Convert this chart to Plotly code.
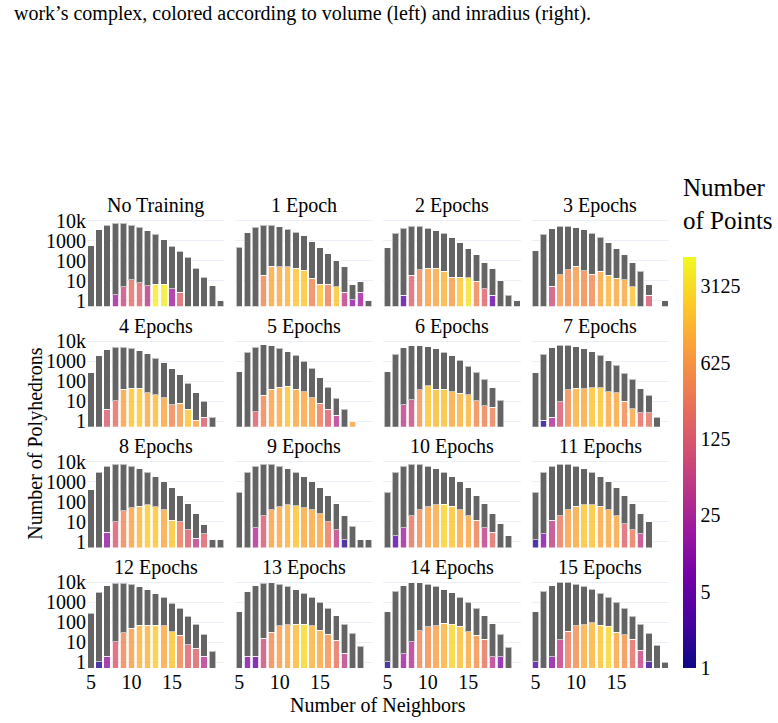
import numpy as np
import plotly.graph_objects as go
from plotly.subplots import make_subplots

neighbors = list(range(5, 22))
titles = ["No Training", "1 Epoch", "2 Epochs", "3 Epochs", "4 Epochs", "5 Epochs",
          "6 Epochs", "7 Epochs", "8 Epochs", "9 Epochs", "10 Epochs", "11 Epochs",
          "12 Epochs", "13 Epochs", "14 Epochs", "15 Epochs"]

# total number of polyhedrons per neighbor count (5..21)
total_e0 = [560, 3400, 6000, 7400, 7400, 6000, 4700, 3150, 2100, 1080, 530, 285, 150, 42, 15, 5.4, 1]
total_e1 = [470, 2500, 4700, 5900, 5900, 5000, 3700, 2600, 1700, 890, 450, 220, 100, 48, 6.3, 8.9, 1]
total_e2 = [450, 2350, 4150, 5200, 5100, 4150, 3150, 2350, 1350, 800, 400, 195, 80, 38, 10, 1.8, 1]
total_e3 = [310, 2100, 4000, 5200, 5200, 4450, 3400, 2350, 1500, 770, 390, 195, 78, 29, 6.3, 0, 1]
total_e4 = [265, 1900, 3800, 5000, 5000, 4450, 3400, 2350, 1400, 830, 420, 210, 80, 26, 10, 1.6, 0]
total_e5 = [300, 2800, 5000, 6500, 6000, 4500, 3000, 2000, 1000, 450, 150, 50, 14, 4, 1, 0, 0]
total_e6 = [295, 2240, 4650, 6000, 6000, 5400, 4150, 2800, 1900, 1120, 560, 275, 127, 48, 11, 0, 0]
total_e7 = [265, 2240, 4650, 6300, 6300, 5400, 4150, 3000, 2000, 1080, 610, 250, 123, 42, 19.6, 1.6, 0]
total_e8 = [400, 3000, 6000, 7500, 7500, 6000, 4500, 3000, 1800, 1000, 500, 200, 80, 25, 7, 1.3, 1.3]
total_e9 = [300, 3000, 6000, 7500, 7500, 6000, 4500, 3000, 1800, 1000, 500, 200, 80, 20, 6, 1.3, 1.3]
total_e10 = [300, 3000, 6000, 7500, 7500, 6000, 4500, 3000, 1800, 1000, 500, 200, 80, 25, 8, 2, 0]
total_e11 = [300, 3000, 6000, 7500, 7500, 6000, 4500, 3000, 1800, 1000, 500, 200, 80, 25, 10, 0, 0]
total_e12 = [295, 3150, 6800, 9300, 9300, 8200, 6000, 4300, 2800, 1800, 930, 500, 210, 83, 26, 3.7, 0]
total_e13 = [340, 3400, 6800, 9300, 9500, 8200, 6300, 4300, 2900, 1800, 1000, 500, 215, 83, 28, 6.6, 0]
total_e14 = [340, 3550, 6800, 9500, 9500, 8200, 6300, 4450, 3000, 1800, 1000, 520, 215, 85, 26, 5.8, 0]
total_e15 = [340, 3550, 6800, 10000, 10000, 8200, 6300, 4650, 2900, 1800, 1040, 500, 210, 79, 28, 7.4, 1]

# subset of polyhedrons (coloured part)
sub_e0 = [0, 0, 0, 1.9, 4.8, 11, 7.6, 5.6, 6.5, 6.5, 3.8, 2.6, 0, 0, 0, 0, 0]
sub_e1 = [0, 0, 0, 18, 51, 48, 48, 42, 32, 13, 6.5, 6.5, 4.8, 2.6, 1.1, 2.6, 0]
sub_e2 = [0, 0, 1.8, 18, 35, 42, 42, 30, 15, 15, 13.5, 9, 3.8, 1.8, 0, 0, 0]
sub_e3 = [0, 0, 5.2, 19.6, 34, 51, 31, 21, 29, 18, 13, 10.7, 4.8, 0, 1.8, 0, 0]
sub_e4 = [0, 0, 4, 10.7, 39, 45, 45, 26, 21, 15, 6.5, 7.9, 4, 1.1, 1.6, 0, 0]
sub_e5 = [0, 0, 3, 20, 40, 50, 55, 40, 30, 15, 8, 4, 2, 0, 1, 0, 0]
sub_e6 = [0, 0, 6.8, 12, 38, 60, 40, 40, 30, 25, 21, 10.7, 5.8, 5, 0, 0, 0]
sub_e7 = [0, 1.1, 1.6, 9.5, 38, 45, 42, 48, 48, 29, 27, 10, 4.1, 2.6, 2.6, 0, 0]
sub_e8 = [0, 0, 3, 10, 35, 50, 60, 70, 55, 40, 12, 10, 4, 1.5, 2.5, 0, 0]
sub_e9 = [0, 0, 5, 20, 40, 55, 70, 65, 50, 40, 25, 10, 4, 1.3, 0, 0, 0]
sub_e10 = [0, 2, 5, 20, 40, 55, 70, 75, 60, 40, 20, 12, 5, 3, 0, 0, 0]
sub_e11 = [1.3, 2.5, 12, 20, 40, 60, 70, 70, 60, 40, 20, 8, 4, 2.5, 0, 0, 0]
sub_e12 = [0, 1.1, 2, 11, 30, 50, 74, 74, 74, 68, 34, 23, 7.6, 5, 2, 0, 0]
sub_e13 = [0, 2, 2, 16, 32, 68, 76, 79, 83, 68, 40, 25, 12.6, 2.8, 0, 0, 0]
sub_e14 = [1.1, 0, 2.7, 10.7, 38, 60, 68, 89, 79, 66, 35, 23, 14.7, 1.9, 1.9, 0, 0]
sub_e15 = [1.1, 0, 1.9, 13.5, 37, 68, 76, 95, 74, 63, 32, 24, 14.7, 4, 1.1, 0, 0]

# number of points (colour) of the coloured part
pts_e0 = [1, 1, 1, 20, 70, 200, 150, 40, 4500, 4500, 20, 150, 1, 1, 1, 1, 1]
pts_e1 = [1, 1, 1, 400, 1000, 1000, 1300, 1800, 1800, 400, 1800, 350, 1800, 50, 15, 20, 1]
pts_e2 = [1, 1, 4, 150, 400, 800, 900, 1200, 700, 2000, 3500, 400, 150, 5, 1, 1, 1]
pts_e3 = [1, 1, 80, 700, 450, 700, 450, 450, 900, 1300, 1000, 1000, 1800, 1, 120, 1, 1]
pts_e4 = [1, 1, 130, 200, 800, 1800, 2000, 1000, 1500, 900, 400, 700, 1800, 800, 130, 1, 1]
pts_e5 = [1, 1, 130, 400, 800, 1000, 1800, 1000, 900, 800, 300, 130, 40, 1, 800, 1, 1]
pts_e6 = [1, 1, 50, 70, 600, 1800, 1500, 1700, 1000, 1200, 1300, 450, 350, 350, 1, 1, 1]
pts_e7 = [1, 1.5, 30, 120, 450, 1200, 1000, 1800, 1800, 1000, 1000, 450, 900, 200, 250, 1, 1]
pts_e8 = [1, 1, 15, 120, 400, 800, 1300, 2200, 1800, 1000, 1800, 300, 130, 50, 150, 1, 1]
pts_e9 = [1, 1, 30, 120, 800, 900, 1200, 1800, 1000, 1000, 900, 300, 50, 1.5, 1, 1, 1]
pts_e10 = [1, 4, 20, 250, 450, 800, 1000, 2500, 1800, 1000, 900, 350, 50, 200, 1, 1, 1]
pts_e11 = [1.5, 10, 50, 300, 800, 1000, 1800, 1800, 1000, 1000, 900, 150, 300, 50, 1, 1, 1]
pts_e12 = [1, 1.5, 15, 120, 400, 700, 1200, 1200, 2200, 1000, 1800, 400, 150, 150, 40, 1, 1]
pts_e13 = [1, 10, 5, 80, 450, 700, 900, 1500, 2800, 1300, 1000, 550, 250, 50, 1, 1, 1]
pts_e14 = [1.5, 1, 20, 35, 400, 500, 800, 1200, 2700, 1700, 1000, 550, 250, 40, 10, 1, 1]
pts_e15 = [3, 1, 12, 50, 300, 500, 1100, 1300, 1800, 2700, 900, 550, 200, 60, 2, 1, 1]

totals = [total_e0, total_e1, total_e2, total_e3, total_e4, total_e5, total_e6, total_e7,
          total_e8, total_e9, total_e10, total_e11, total_e12, total_e13, total_e14, total_e15]
subs = [sub_e0, sub_e1, sub_e2, sub_e3, sub_e4, sub_e5, sub_e6, sub_e7,
        sub_e8, sub_e9, sub_e10, sub_e11, sub_e12, sub_e13, sub_e14, sub_e15]
pts = [pts_e0, pts_e1, pts_e2, pts_e3, pts_e4, pts_e5, pts_e6, pts_e7,
       pts_e8, pts_e9, pts_e10, pts_e11, pts_e12, pts_e13, pts_e14, pts_e15]

y_tickvals = [1, 10, 100, 1000, 10000]
y_ticktext = ["1", "10", "100", "1000", "10k"]
x_tickvals = [5, 10, 15]
cbar_vals = [1, 5, 25, 125, 625, 3125]
cbar_text = ["1", "5", "25", "125", "625", "3125"]
caption = "work\u2019s complex, colored according to volume (left) and inradius (right)."

FONT = "Liberation Serif, Times New Roman, serif"

fig = make_subplots(rows=4, cols=4, shared_xaxes=True, shared_yaxes=True,
                    horizontal_spacing=0.0185, vertical_spacing=0.0746,
                    subplot_titles=titles)

for i in range(16):
    r, c = i // 4 + 1, i % 4 + 1
    tot, sub, pt = totals[i], subs[i], pts[i]
    sub_y = [s if s > 0 else None for s in sub]
    gray_y = [(t - s) if t > 0 else None for t, s in zip(tot, sub)]
    fig.add_trace(go.Bar(x=neighbors, y=sub_y,
                         marker=dict(color=np.log10(pt), coloraxis="coloraxis", opacity=0.8,
                                     line=dict(color="rgba(255,255,255,0.8)", width=1)),
                         showlegend=False), row=r, col=c)
    fig.add_trace(go.Bar(x=neighbors, y=gray_y,
                         marker=dict(color="rgb(100,100,100)",
                                     line=dict(color="rgba(255,255,255,0.6)", width=1)),
                         showlegend=False), row=r, col=c)

fig.update_yaxes(type="log", range=[-0.28, 4.08], tickvals=y_tickvals, ticktext=y_ticktext,
                 gridcolor="#EBF0F8", showline=False, zeroline=False)
fig.update_xaxes(range=[4.5, 21.5], tickvals=x_tickvals, showgrid=False, zeroline=False)

for a in fig.layout.annotations:
    a.font = dict(size=20, family=FONT, color="black")

fig.add_annotation(text="Number of Polyhedrons", textangle=-90, xref="paper", yref="paper",
                   x=-0.089, y=0.5, xanchor="center", yanchor="middle", showarrow=False,
                   font=dict(size=20, family=FONT, color="black"))
fig.add_annotation(text="Number of Neighbors", xref="paper", yref="paper",
                   x=0.5, y=0, yshift=-37, xanchor="center", yanchor="middle", showarrow=False,
                   font=dict(size=20, family=FONT, color="black"))
fig.add_annotation(text=caption, xref="paper", yref="paper",
                   x=-0.1283, y=1.4566, xanchor="left", yanchor="middle", showarrow=False,
                   font=dict(size=20, family=FONT, color="black"))
fig.add_annotation(text="Number<br>of Points", xref="paper", yref="paper",
                   x=1.0239, y=1.1049, xshift=-2, xanchor="left", yanchor="top", align="left",
                   showarrow=False, font=dict(size=25, family=FONT, color="black"))

fig.update_layout(
    template="plotly_white",
    width=778, height=723,
    margin=dict(l=86.7, r=108.9, t=219.1, b=54.7),
    barmode="stack", bargap=0.2,
    font=dict(family=FONT, size=20, color="black"),
    coloraxis=dict(
        colorscale="Plasma", cmin=0, cmax=float(np.log10(5800)),
        colorbar=dict(
            tickvals=list(np.log10(cbar_vals)), ticktext=cbar_text,
            tickfont=dict(size=20, family=FONT),
            thickness=13, len=0.915, lenmode="fraction", y=0, yanchor="bottom",
            x=1.024, xanchor="left", outlinewidth=0, ticks="", xpad=0, ypad=0,
        ),
    ),
)

fig.write_html("out.html")
